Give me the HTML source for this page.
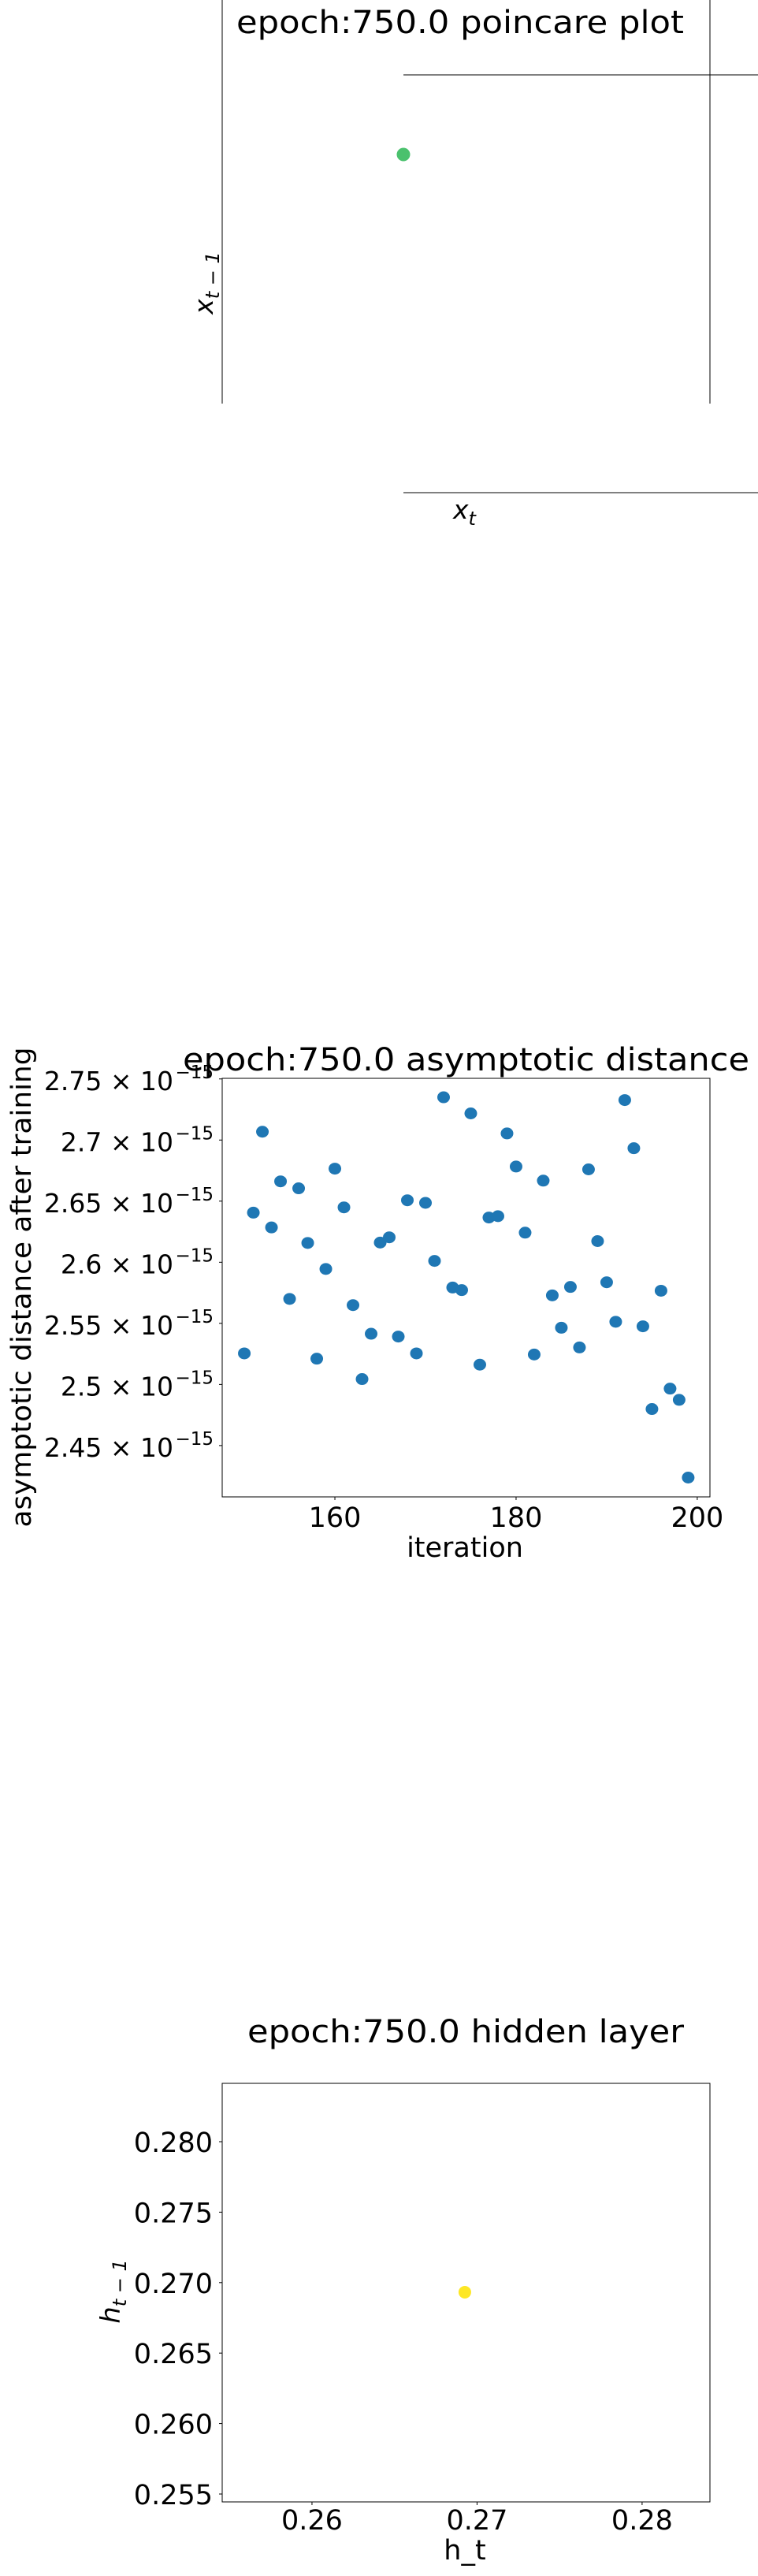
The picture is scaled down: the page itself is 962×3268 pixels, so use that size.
<!DOCTYPE html>
<html><head><meta charset="utf-8"><style>
html,body{margin:0;padding:0;background:#fff;}
svg{display:block;font-family:"DejaVu Sans","Liberation Sans",sans-serif;}
</style></head><body>
<svg id="fig" width="962" height="3268" viewBox="0 0 962 3268" xmlns="http://www.w3.org/2000/svg">
<g id="p1">
  <line x1="282" y1="0" x2="282" y2="512" stroke="#000" stroke-width="1"/>
  <line x1="901" y1="0" x2="901" y2="512" stroke="#000" stroke-width="1"/>
  <line x1="512" y1="95" x2="962" y2="95" stroke="#000" stroke-width="1"/>
  <line x1="512" y1="625" x2="962" y2="625" stroke="#000" stroke-width="1"/>
  <text x="300" y="42" font-size="40" textLength="568" lengthAdjust="spacingAndGlyphs">epoch:750.0 poincare plot</text>
  <text transform="translate(270,359) rotate(-90)" text-anchor="middle" font-size="33" font-style="italic">x<tspan font-size="24" dy="8">t − 1</tspan></text>
  <text x="575" y="658" font-size="33" font-style="italic">x<tspan font-size="24" dy="8">t</tspan></text>
  <ellipse cx="512" cy="196" rx="8.5" ry="8.5" fill="#4ac16d"/>
</g>
<g id="p2"></g>
<g id="p3"></g>
</svg>
<script>
const iterations = [150,151,152,153,154,155,156,157,158,159,160,161,162,163,164,165,166,167,168,169,170,171,172,173,174,175,176,177,178,179,180,181,182,183,184,185,186,187,188,189,190,191,192,193,194,195,196,197,198,199];
const distances = [2.5254,2.6406,2.7068,2.6285,2.6662,2.5700,2.6605,2.6158,2.5211,2.5945,2.6766,2.6449,2.5649,2.5044,2.5415,2.6161,2.6204,2.5392,2.6507,2.5254,2.6486,2.6011,2.7350,2.5793,2.5772,2.7218,2.5162,2.6366,2.6377,2.7054,2.6783,2.6242,2.5245,2.6668,2.5729,2.5464,2.5798,2.5303,2.6760,2.6173,2.5836,2.5513,2.7327,2.6933,2.5476,2.4799,2.5767,2.4966,2.4874,2.4238];
const distYTicks = [2.45,2.5,2.55,2.6,2.65,2.7,2.75];
const distYTickLabels = ["2.45","2.5","2.55","2.6","2.65","2.7","2.75"];
const distXTicks = [160,180,200];
const hiddenHt = [0.26926];
const hiddenHt1 = [0.26932];
const hiddenXTicks = [0.26,0.27,0.28];
const hiddenXTickLabels = ["0.26","0.27","0.28"];
const hiddenYTicks = [0.255,0.26,0.265,0.27,0.275,0.28];
const hiddenYTickLabels = ["0.255","0.260","0.265","0.270","0.275","0.280"];

const NS = "http://www.w3.org/2000/svg";
function mk(parent, tag, attrs, text) {
  const e = document.createElementNS(NS, tag);
  for (const k in attrs) e.setAttribute(k, attrs[k]);
  if (text !== undefined) e.textContent = text;
  parent.appendChild(e);
  return e;
}
function scale(d0, d1, r0, r1) { return v => r0 + (v - d0) / (d1 - d0) * (r1 - r0); }

// Chart 2
(function(){
  const g = document.getElementById('p2');
  const L=282,R=901,T=1368,B=1899;
  const xs = scale(147.56, 201.4, L, R);
  const ys = scale(2.408, 2.7505, B, T);
  let e = mk(g,'rect',{x:L,y:T,width:R-L,height:B-T,fill:'none',stroke:'#000','stroke-width':1});
  
  
  iterations.forEach((it,i)=>{
    const c = mk(g,'ellipse',{cx:xs(it),cy:ys(distances[i]),rx:8,ry:7.5,fill:'#1f77b4'});
    
    
  });
  distYTicks.forEach((v,i)=>{
    const y = ys(v);
    const t = mk(g,'line',{x1:L-4,y1:y,x2:L,y2:y,stroke:'#000'});
    
    
    const s = mk(g,'text',{x:271,y:y-1,'font-size':23,'text-anchor':'end'},'−15');
    
    
    const m = mk(g,'text',{x:220,y:y+14,'font-size':33,'text-anchor':'end'},distYTickLabels[i]+' × 10');
    
    
  });
  distXTicks.forEach(v=>{
    const x = xs(v);
    const t = mk(g,'line',{x1:x,y1:B,x2:x,y2:B+4,stroke:'#000'});
    
    
    const l = mk(g,'text',{x:x,y:1937,'font-size':35,'text-anchor':'middle'},String(v));
    
    
  });
  e = mk(g,'text',{x:232,y:1358,'font-size':40,textLength:719,lengthAdjust:'spacingAndGlyphs'},'epoch:750.0 asymptotic distance');
  
  
  e = mk(g,'text',{x:590,y:1975,'font-size':35,'text-anchor':'middle'},'iteration');
  
  
  e = mk(g,'text',{transform:'translate(39,1633) rotate(-90)','font-size':35,'text-anchor':'middle',textLength:609,lengthAdjust:'spacingAndGlyphs'},'asymptotic distance after training');
  
  
})();

// Chart 3
(function(){
  const g = document.getElementById('p3');
  const L=282,R=901,T=2643,B=3174;
  const xs = scale(0.25456, 0.28411, L, R);
  const ys = scale(0.25444, 0.28414, B, T);
  let e = mk(g,'rect',{x:L,y:T,width:R-L,height:B-T,fill:'none',stroke:'#000','stroke-width':1});
  
  
  hiddenHt.forEach((v,i)=>{
    const c = mk(g,'ellipse',{cx:xs(v),cy:ys(hiddenHt1[i]),rx:8,ry:8,fill:'#fde725'});
    
    
  });
  hiddenYTicks.forEach((v,i)=>{
    const y = ys(v);
    const t = mk(g,'line',{x1:L-4,y1:y,x2:L,y2:y,stroke:'#000'});
    
    
    const l = mk(g,'text',{x:270,y:y+13,'font-size':35,'text-anchor':'end'},hiddenYTickLabels[i]);
    
    
  });
  hiddenXTicks.forEach((v,i)=>{
    const x = xs(v);
    const t = mk(g,'line',{x1:x,y1:B,x2:x,y2:B+4,stroke:'#000'});
    
    
    const l = mk(g,'text',{x:x,y:3209,'font-size':35,'text-anchor':'middle'},hiddenXTickLabels[i]);
    
    
  });
  e = mk(g,'text',{x:314,y:2591,'font-size':40,textLength:554,lengthAdjust:'spacingAndGlyphs'},'epoch:750.0 hidden layer');
  
  
  e = mk(g,'text',{x:590,y:3247,'font-size':35,'text-anchor':'middle'},'h_t');
  
  
  e = mk(g,'text',{transform:'translate(152,2907) rotate(-90)','font-size':34,'text-anchor':'middle','font-style':'italic'});
  
  
  mk(e,'tspan',{},'h');
  mk(e,'tspan',{'font-size':24,dy:8},'t − 1');
})();
</script>
</body></html>
